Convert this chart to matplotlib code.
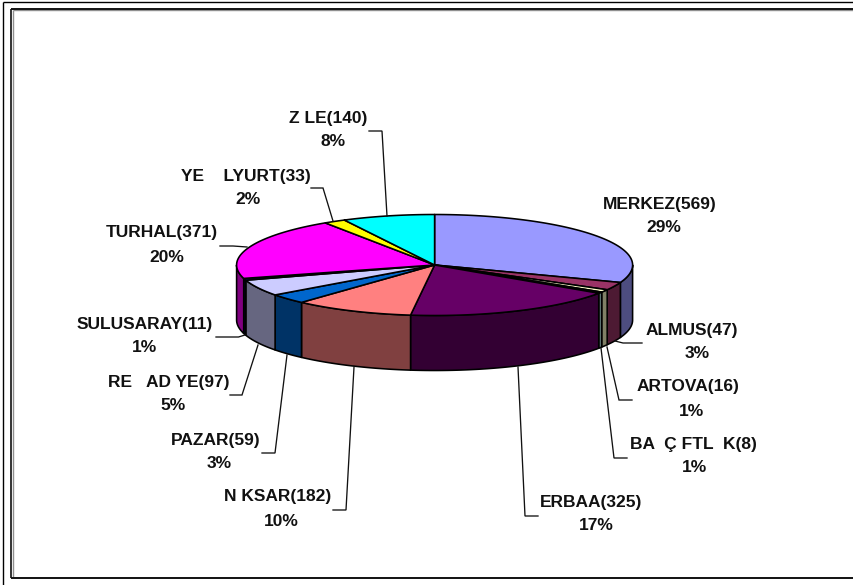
import numpy as np
import matplotlib
matplotlib.use("Agg")
import matplotlib.pyplot as plt

# --- data ---
districts = ["MERKEZ(569)", "ALMUS(47)", "ARTOVA(16)", "BA  Ç FTL  K(8)", "ERBAA(325)",
             "N KSAR(182)", "PAZAR(59)", "RE   AD YE(97)", "SULUSARAY(11)", "TURHAL(371)",
             "YE    LYURT(33)", "Z LE(140)"]
values = [569, 47, 16, 8, 325, 182, 59, 97, 11, 371, 33, 140]
percents = ["29%", "3%", "1%", "1%", "17%", "10%", "3%", "5%", "1%", "20%", "2%", "8%"]
top_colors = ["#9999FF", "#993366", "#FFFFCC", "#CCFFFF", "#660066", "#FF8080",
              "#0066CC", "#CCCCFF", "#000080", "#FF00FF", "#FFFF00", "#00FFFF"]
side_colors = ["#4D4D80", "#4D1A33", "#808066", "#668080", "#330033", "#804040",
               "#003366", "#666680", "#000040", "#800080", "#808000", "#008080"]

# --- layout (pixels) ---
CX, CY, RX, RY, DEPTH = 434.6, 265.0, 198.0, 50.5, 55.0
name_pos = [(660, 205), (692, 330), (688, 387), (693.5, 445), (591.5, 503), (277.5, 497),
            (216, 440), (169, 382), (144.5, 324), (162, 233), (245.5, 176), (328.5, 119)]
pct_pos = [(664, 228), (697, 354), (692, 411), (695, 468), (596, 526), (281, 521),
           (219, 464), (173, 406), (145, 348), (167, 257), (248, 199), (333, 142)]
leaders = [None,
           [(642, 343), (623, 343), (615, 341)],
           [(632, 400), (619, 400), (607, 347)],
           [(627, 458), (614, 458), (601, 348)],
           [(538, 516), (525, 516), (518, 367)],
           [(333, 510), (346, 510), (354, 367)],
           [(262, 453), (275, 453), (287, 355)],
           [(230, 395), (242, 395), (258, 345)],
           [(216, 337), (238.5, 337), (245, 335)],
           [(220, 246), (233, 246), (247, 247)],
           [(311, 188), (323, 188), (333, 221)],
           [(369, 131), (382, 131), (387, 216)]]

fig = plt.figure(figsize=(8.54, 5.85), dpi=100, facecolor="white")
ax = fig.add_axes([0, 0, 1, 1])
ax.set_xlim(0, 854)
ax.set_ylim(585, 0)
ax.axis("off")


def rim(a0, a1, dy=0.0):
    """Ellipse arc; angle in degrees clockwise from 12 o'clock."""
    t = np.radians(np.linspace(a0, a1, max(int(abs(a1 - a0) * 2), 2)))
    return CX + RX * np.sin(t), CY - RY * np.cos(t) + dy


# frames
ax.plot([3, 3], [585, 1.5], color="black", lw=1.0, solid_capstyle="butt")
ax.plot([3, 854], [1.5, 1.5], color="black", lw=1.0, solid_capstyle="butt")
ax.plot([12.8, 12.8], [10, 577], color="#909090", lw=1.0, solid_capstyle="butt")
ax.plot([12.8, 854], [10.2, 10.2], color="#909090", lw=1.0, solid_capstyle="butt")
ax.plot([11.3, 11.3], [8.8, 577.5], color="#111111", lw=1.2, solid_capstyle="butt")
ax.plot([11, 854], [8.8, 8.8], color="#111111", lw=1.4, solid_capstyle="butt")
ax.plot([11, 854], [577.5, 577.5], color="#111111", lw=1.4, solid_capstyle="butt")

# pie
edges = np.concatenate([[0], np.cumsum(values)]) / np.sum(values) * 360.0
EDGE = dict(edgecolor="black", linewidth=1.15, joinstyle="round")
for a0, a1, c in zip(edges[:-1], edges[1:], side_colors):
    lo, hi = max(a0, 90.0), min(a1, 270.0)
    if hi <= lo:
        continue
    x, y = rim(lo, hi)
    xb, yb = rim(lo, hi, DEPTH)
    ax.fill(np.r_[x, xb[::-1]], np.r_[y, yb[::-1]], facecolor=c, **EDGE)
for a0, a1, c in zip(edges[:-1], edges[1:], top_colors):
    x, y = rim(a0, a1)
    ax.fill(np.r_[CX, x], np.r_[CY, y], facecolor=c, **EDGE)

# labels and leader lines
FONT = dict(family="Liberation Sans", fontweight="bold", fontsize=12.5, color="#111111",
            ha="center", va="center")
for name, pct, np_, pp, ld in zip(districts, percents, name_pos, pct_pos, leaders):
    ax.text(np_[0], np_[1], name, **FONT)
    ax.text(pp[0], pp[1], pct, **FONT)
    if ld:
        ax.plot(*zip(*ld), color="#111111", lw=0.95, solid_joinstyle="miter")

fig.savefig("out.png", dpi=100)
